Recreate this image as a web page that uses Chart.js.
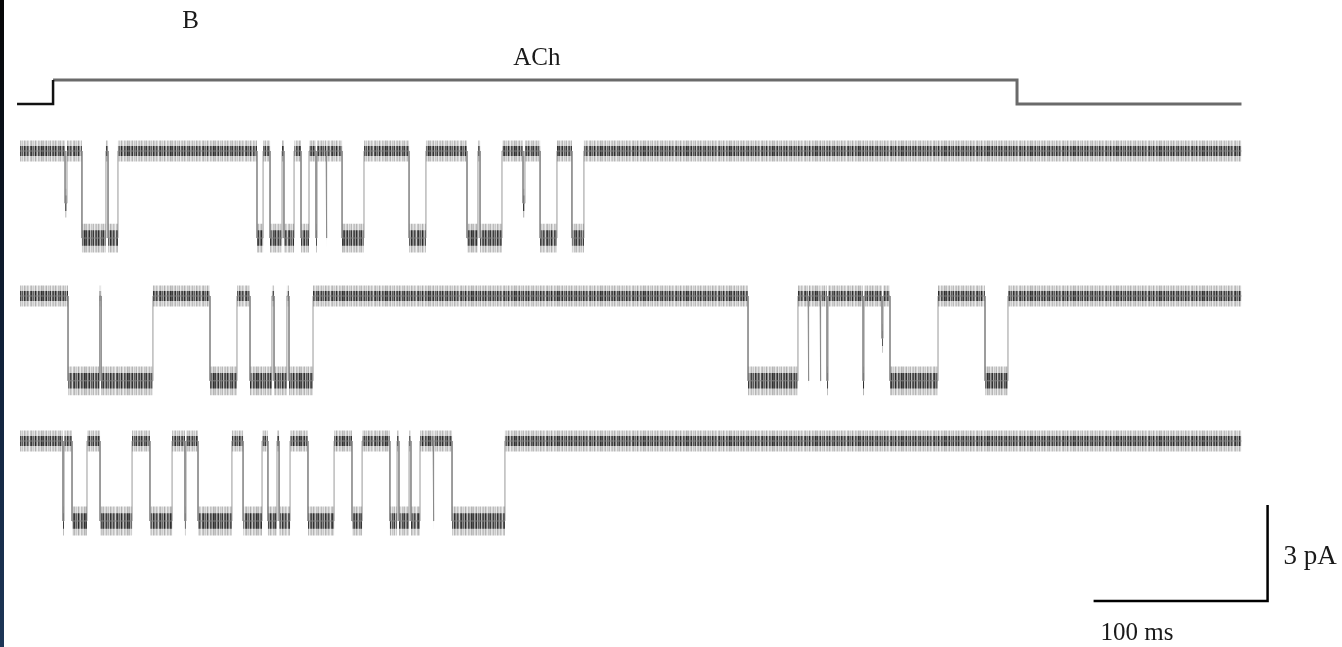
<!DOCTYPE html>
<html><head><meta charset="utf-8">
<script src="https://cdn.jsdelivr.net/npm/chart.js@4.4.1/dist/chart.umd.min.js"></script>
<style>
html,body{margin:0;padding:0;background:#fff;overflow:hidden;}
#wrap{position:relative;width:1342px;height:647px;background:#fff;}
#c{position:absolute;left:0;top:0;}
#strip{position:absolute;left:0;top:0;width:4px;height:647px;background:linear-gradient(#060606,#10213a 55%,#1d3657);}
</style></head><body>
<div id="wrap"><canvas id="c" width="1342" height="647"></canvas><div id="strip"></div></div>
<script>
// ---------- data ----------
const recordSpanMs = [0, 702];            // sweep start / end
const achSpanMs = [-1.7, 702];            // stimulus marker start / end
const achOnOffMs = [19.0, 573.0];         // ACh application on / off
// channel openings per sweep: [start ms, end ms, fraction of full amplitude]
const sweep1Openings = [
  [25.9,27.0,0.6],[35.6,49.4,1],[50.6,56.3,1],[136.2,139.7,1],[143.7,150.6,1],
  [151.7,157.5,1],[161.5,166.1,1],[170.1,170.7,1],[175.9,176.4,1],[185.1,197.7,1],
  [223.6,233.3,1],[256.9,263.2,1],[264.4,277.0,1],[289.1,290.2,0.6],[298.9,308.6,1],
  [317.2,324.1,1]
];
const sweep2Openings = [
  [27.6,45.7,1],[46.6,76.4,1],[109.2,124.7,1],[132.2,144.8,1],[146.0,153.4,1],
  [154.6,168.4,1],[418.4,447.1,1],[452.9,453.4,1],[459.8,460.3,1],[463.8,464.4,1],
  [484.5,485.1,1],[495.4,496.0,0.5],[500.0,527.6,1],[554.6,567.8,1]
];
const sweep3Openings = [
  [24.7,25.3,1],[29.9,38.5,1],[46.0,64.4,1],[74.7,87.4,1],[94.8,95.4,1],
  [102.3,121.8,1],[128.2,139.1,1],[142.5,147.7,1],[148.9,155.2,1],[165.5,180.5,1],
  [190.8,196.6,1],[212.6,216.7,1],[217.8,223.6,1],[224.7,229.9,1],[237.4,237.9,1],
  [248.3,278.7,1]
];
const unitaryAmplitudePA = [2.72, 2.65, 2.5];
const closedNoisePA = [0.33, 0.16];   // outer / inner half-width of baseline noise
const openNoisePA = [0.45, 0.24];     // outer / inner half-width of open-level noise
const scaleBarTimeMs = 100;
const scaleBarCurrentPA = 3;
const scaleBarEndMs = 717;
const labelTexts = {panel:'B', stimulus:'ACh', current:'3 pA', time:'100 ms'};

// ---------- layout (pixels) ----------
const W = 1342, H = 647;
const X0 = 20, PX_PER_MS = 1.74, PX_PER_PA = 32;
const sweepBaselinePx = [151, 296, 441];
const achHighPx = 80, achLowPx = 104;
const scaleBarBottomPx = 601;
const toPA = px => -px / PX_PER_PA;

// hatch textures used as fill styles for the noise bands
const hatchAlpha = [0.85,0.35,0.6,0.95,0.3,0.7,0.5,0.9,0.25,0.65,0.8,0.4,0.95,0.55,0.3,0.75,0.6,0.9,0.35,0.5,0.85,0.45,0.7,0.3,0.95,0.6,0.4,0.8,0.55,0.2,0.7,0.9,0.45,0.65,0.35,1.0,0.5,0.25,0.8,0.6,0.4,0.95,0.7];
function makePattern(rgb, scale){
  const pc = document.createElement('canvas');
  pc.width = hatchAlpha.length; pc.height = 4;
  const pctx = pc.getContext('2d');
  hatchAlpha.forEach((a,i)=>{ pctx.fillStyle = `rgba(${rgb},${(a*scale).toFixed(3)})`; pctx.fillRect(i,0,1,4); });
  return pctx.createPattern(pc,'repeat');
}
const outerPattern = makePattern('100,100,100', 0.5);
const innerPattern = makePattern('40,40,40', 1.0);

function levels(openings, amp){
  const pts = [{x:recordSpanMs[0], y:0}];
  for (const [s,e,f] of openings){
    const lv = -amp*f;
    pts.push({x:s,y:0},{x:s,y:lv},{x:e,y:lv},{x:e,y:0});
  }
  pts.push({x:recordSpanMs[1], y:0});
  return pts;
}

const datasets = [];
[sweep1Openings, sweep2Openings, sweep3Openings].forEach((ops, k)=>{
  const off = toPA(sweepBaselinePx[k]);
  const pts = levels(ops, unitaryAmplitudePA[k]);
  [[0, outerPattern, 3], [1, innerPattern, 2]].forEach(([j, pat, ord])=>{
    const hw = p => p.y === 0 ? closedNoisePA[j] : openNoisePA[j];
    const lowIdx = datasets.length;
    datasets.push({data: pts.map(p=>({x:p.x, y:off+p.y-hw(p)})), borderWidth:0, borderColor:'rgba(0,0,0,0)', fill:false, order:ord});
    datasets.push({data: pts.map(p=>({x:p.x, y:off+p.y+hw(p)})), borderWidth:0, borderColor:'rgba(0,0,0,0)', backgroundColor:pat, fill:{target:lowIdx}, order:ord});
  });
  datasets.push({data: pts.map(p=>({x:p.x, y:off+p.y})), borderWidth:1, borderColor:'rgba(135,135,135,0.85)', fill:false, order:1});
});
// ACh stimulus marker
datasets.push({data:[{x:achSpanMs[0],y:toPA(achLowPx)},{x:achOnOffMs[0],y:toPA(achLowPx)},{x:achOnOffMs[0],y:toPA(achHighPx)}], borderColor:'#111', borderWidth:2.5, fill:false, order:0});
datasets.push({data:[{x:achOnOffMs[0],y:toPA(achHighPx)},{x:achOnOffMs[1],y:toPA(achHighPx)},{x:achOnOffMs[1],y:toPA(achLowPx)},{x:achSpanMs[1],y:toPA(achLowPx)}], borderColor:'#6a6a6a', borderWidth:3, fill:false, order:0});
// scale bar
const sbY = toPA(scaleBarBottomPx);
datasets.push({data:[{x:scaleBarEndMs-scaleBarTimeMs,y:sbY},{x:scaleBarEndMs,y:sbY},{x:scaleBarEndMs,y:sbY+scaleBarCurrentPA}], borderColor:'#000', borderWidth:2.5, fill:false, order:0});

const textPlugin = {
  id:'texts',
  afterDraw(chart){
    const ctx = chart.ctx, xs = chart.scales.x, ys = chart.scales.y;
    ctx.save();
    ctx.fillStyle = '#1a1a1a';
    ctx.font = '25px "Liberation Serif", "DejaVu Serif", serif';
    ctx.textBaseline = 'middle';
    ctx.textAlign = 'center';
    ctx.fillText(labelTexts.panel, xs.getPixelForValue(98), 21);
    ctx.fillText(labelTexts.stimulus, xs.getPixelForValue(297), 58);
    const bx1 = xs.getPixelForValue(scaleBarEndMs);
    ctx.fillText(labelTexts.time, xs.getPixelForValue(642), ys.getPixelForValue(sbY)+32);
    ctx.textAlign = 'left';
    ctx.font = '27px "Liberation Serif", "DejaVu Serif", serif';
    ctx.fillText(labelTexts.current, bx1+16, ys.getPixelForValue(sbY+scaleBarCurrentPA/2)+4);
    ctx.restore();
  }
};

new Chart(document.getElementById('c'), {
  type:'line',
  data:{datasets},
  options:{
    responsive:false, animation:false, devicePixelRatio:1,
    layout:{padding:0},
    elements:{point:{radius:0}, line:{tension:0, borderJoinStyle:'miter'}},
    plugins:{legend:{display:false}, tooltip:{enabled:false}},
    scales:{
      x:{type:'linear', display:false, min:-X0/PX_PER_MS, max:(W-X0)/PX_PER_MS},
      y:{type:'linear', display:false, min:-H/PX_PER_PA, max:0}
    }
  },
  plugins:[textPlugin]
});
</script>
</body></html>
